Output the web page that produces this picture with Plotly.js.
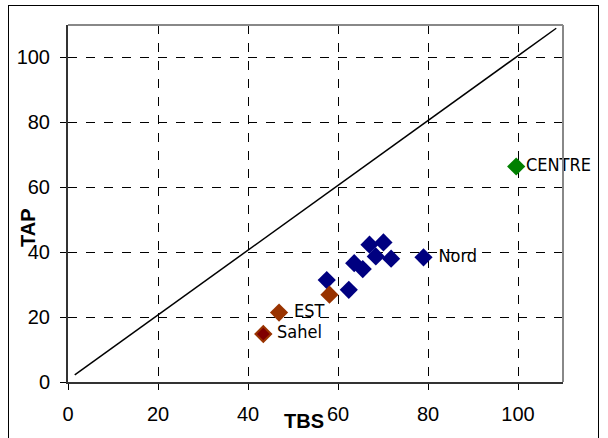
<!DOCTYPE html>
<html><head><meta charset="utf-8">
<script src="https://cdn.plot.ly/plotly-3.0.1.min.js"></script>
<style>
html,body{margin:0;padding:0;background:#fff;}
#frame{position:absolute;left:8px;top:5px;width:591px;height:440px;border:1.5px solid #000;box-sizing:border-box;pointer-events:none;}
#chart{position:absolute;left:0;top:0;width:608px;height:438px;}
</style></head>
<body>
<div id="chart"></div>
<div id="frame"></div>
<script>
// Data
const blueTBS = [57.5, 62.4, 63.6, 65.5, 67.0, 70.1, 68.4, 71.8, 79.0];
const blueTAP = [31.4, 28.4, 36.6, 34.8, 42.3, 43.0, 38.7, 38.0, 38.4];
const blueLabels = ["", "", "", "", "", "", "", "", " Nord"];
const brownTBS = [46.9, 58.1];
const brownTAP = [21.4, 26.9];
const brownLabels = [" EST", ""];
const sahelTBS = [43.4];
const sahelTAP = [14.8];
const sahelLabels = [" Sahel"];
const centreTBS = [99.6];
const centreTAP = [66.4];
const centreLabels = ["CENTRE"];
const diagX = [1.5, 108.5];
const diagY = [2.2, 109];
const tickVals = [0, 20, 40, 60, 80, 100];

const labFont = {family: "DejaVu Sans Condensed, Liberation Sans Narrow, Arial Narrow, Liberation Sans, sans-serif", size: 18, color: "#000"};
const traces = [
  {x: diagX, y: diagY, mode: "lines", line: {color: "#000", width: 1.5}, hoverinfo: "skip"},
  {x: blueTBS, y: blueTAP, text: blueLabels, mode: "markers+text", textposition: "middle right", cliponaxis: false,
   marker: {symbol: "diamond", size: 14, color: "#000080"}, textfont: labFont},
  {x: brownTBS, y: brownTAP, text: brownLabels, mode: "markers+text", textposition: "middle right", cliponaxis: false,
   marker: {symbol: "diamond", size: 14, color: "#993300"}, textfont: labFont},
  {x: sahelTBS, y: sahelTAP, text: sahelLabels, mode: "markers+text", textposition: "middle right", cliponaxis: false,
   marker: {symbol: "diamond", size: 12, color: "#800000", line: {color: "#993300", width: 2}}, textfont: labFont},
  {x: centreTBS, y: centreTAP, text: centreLabels, mode: "markers+text", textposition: "middle right", cliponaxis: false,
   marker: {symbol: "diamond", size: 14, color: "#008000"}, textfont: labFont}
];

const axFont = {family: "Liberation Sans, Arial, sans-serif", size: 20, color: "#000"};
const titleFont = {family: "Liberation Sans, Arial, sans-serif", size: 20, color: "#000"};
const layout = {
  width: 608, height: 438,
  margin: {l: 68, r: 45, t: 25, b: 56},
  showlegend: false,
  paper_bgcolor: "#fff", plot_bgcolor: "#fff",
  xaxis: {
    range: [0, 110], tickvals: tickVals, ticks: "outside", ticklen: 6, tickcolor: "#000",
    showgrid: true, gridcolor: "#000", griddash: "dash", gridwidth: 1,
    zeroline: false, showline: true, linecolor: "#333", linewidth: 2,
    tickfont: axFont, ticklabelstandoff: 7
  },
  yaxis: {
    range: [0, 110], tickvals: tickVals, ticks: "outside", ticklen: 6, tickcolor: "#000",
    showgrid: true, gridcolor: "#000", griddash: "dash", gridwidth: 1,
    zeroline: false, showline: true, linecolor: "#333", linewidth: 2,
    tickfont: axFont, ticklabelstandoff: 6
  },
  annotations: [
    {text: "<b>TBS</b>", xref: "paper", yref: "paper", x: 0.476, y: -0.11, showarrow: false,
     xanchor: "center", yanchor: "middle", font: titleFont},
    {text: "<b>TAP</b>", xref: "paper", yref: "paper", x: -0.081, y: 0.434, showarrow: false, textangle: -90,
     xanchor: "center", yanchor: "middle", font: titleFont}
  ],
  shapes: [
    {type: "line", xref: "paper", yref: "paper", x0: 0, x1: 1, y0: 1, y1: 1, line: {color: "#888", width: 2}},
    {type: "line", xref: "paper", yref: "paper", x0: 1, x1: 1, y0: 0, y1: 1, line: {color: "#888", width: 2}}
  ]
};
Plotly.newPlot("chart", traces, layout, {displayModeBar: false, staticPlot: true});
</script>
</body></html>
